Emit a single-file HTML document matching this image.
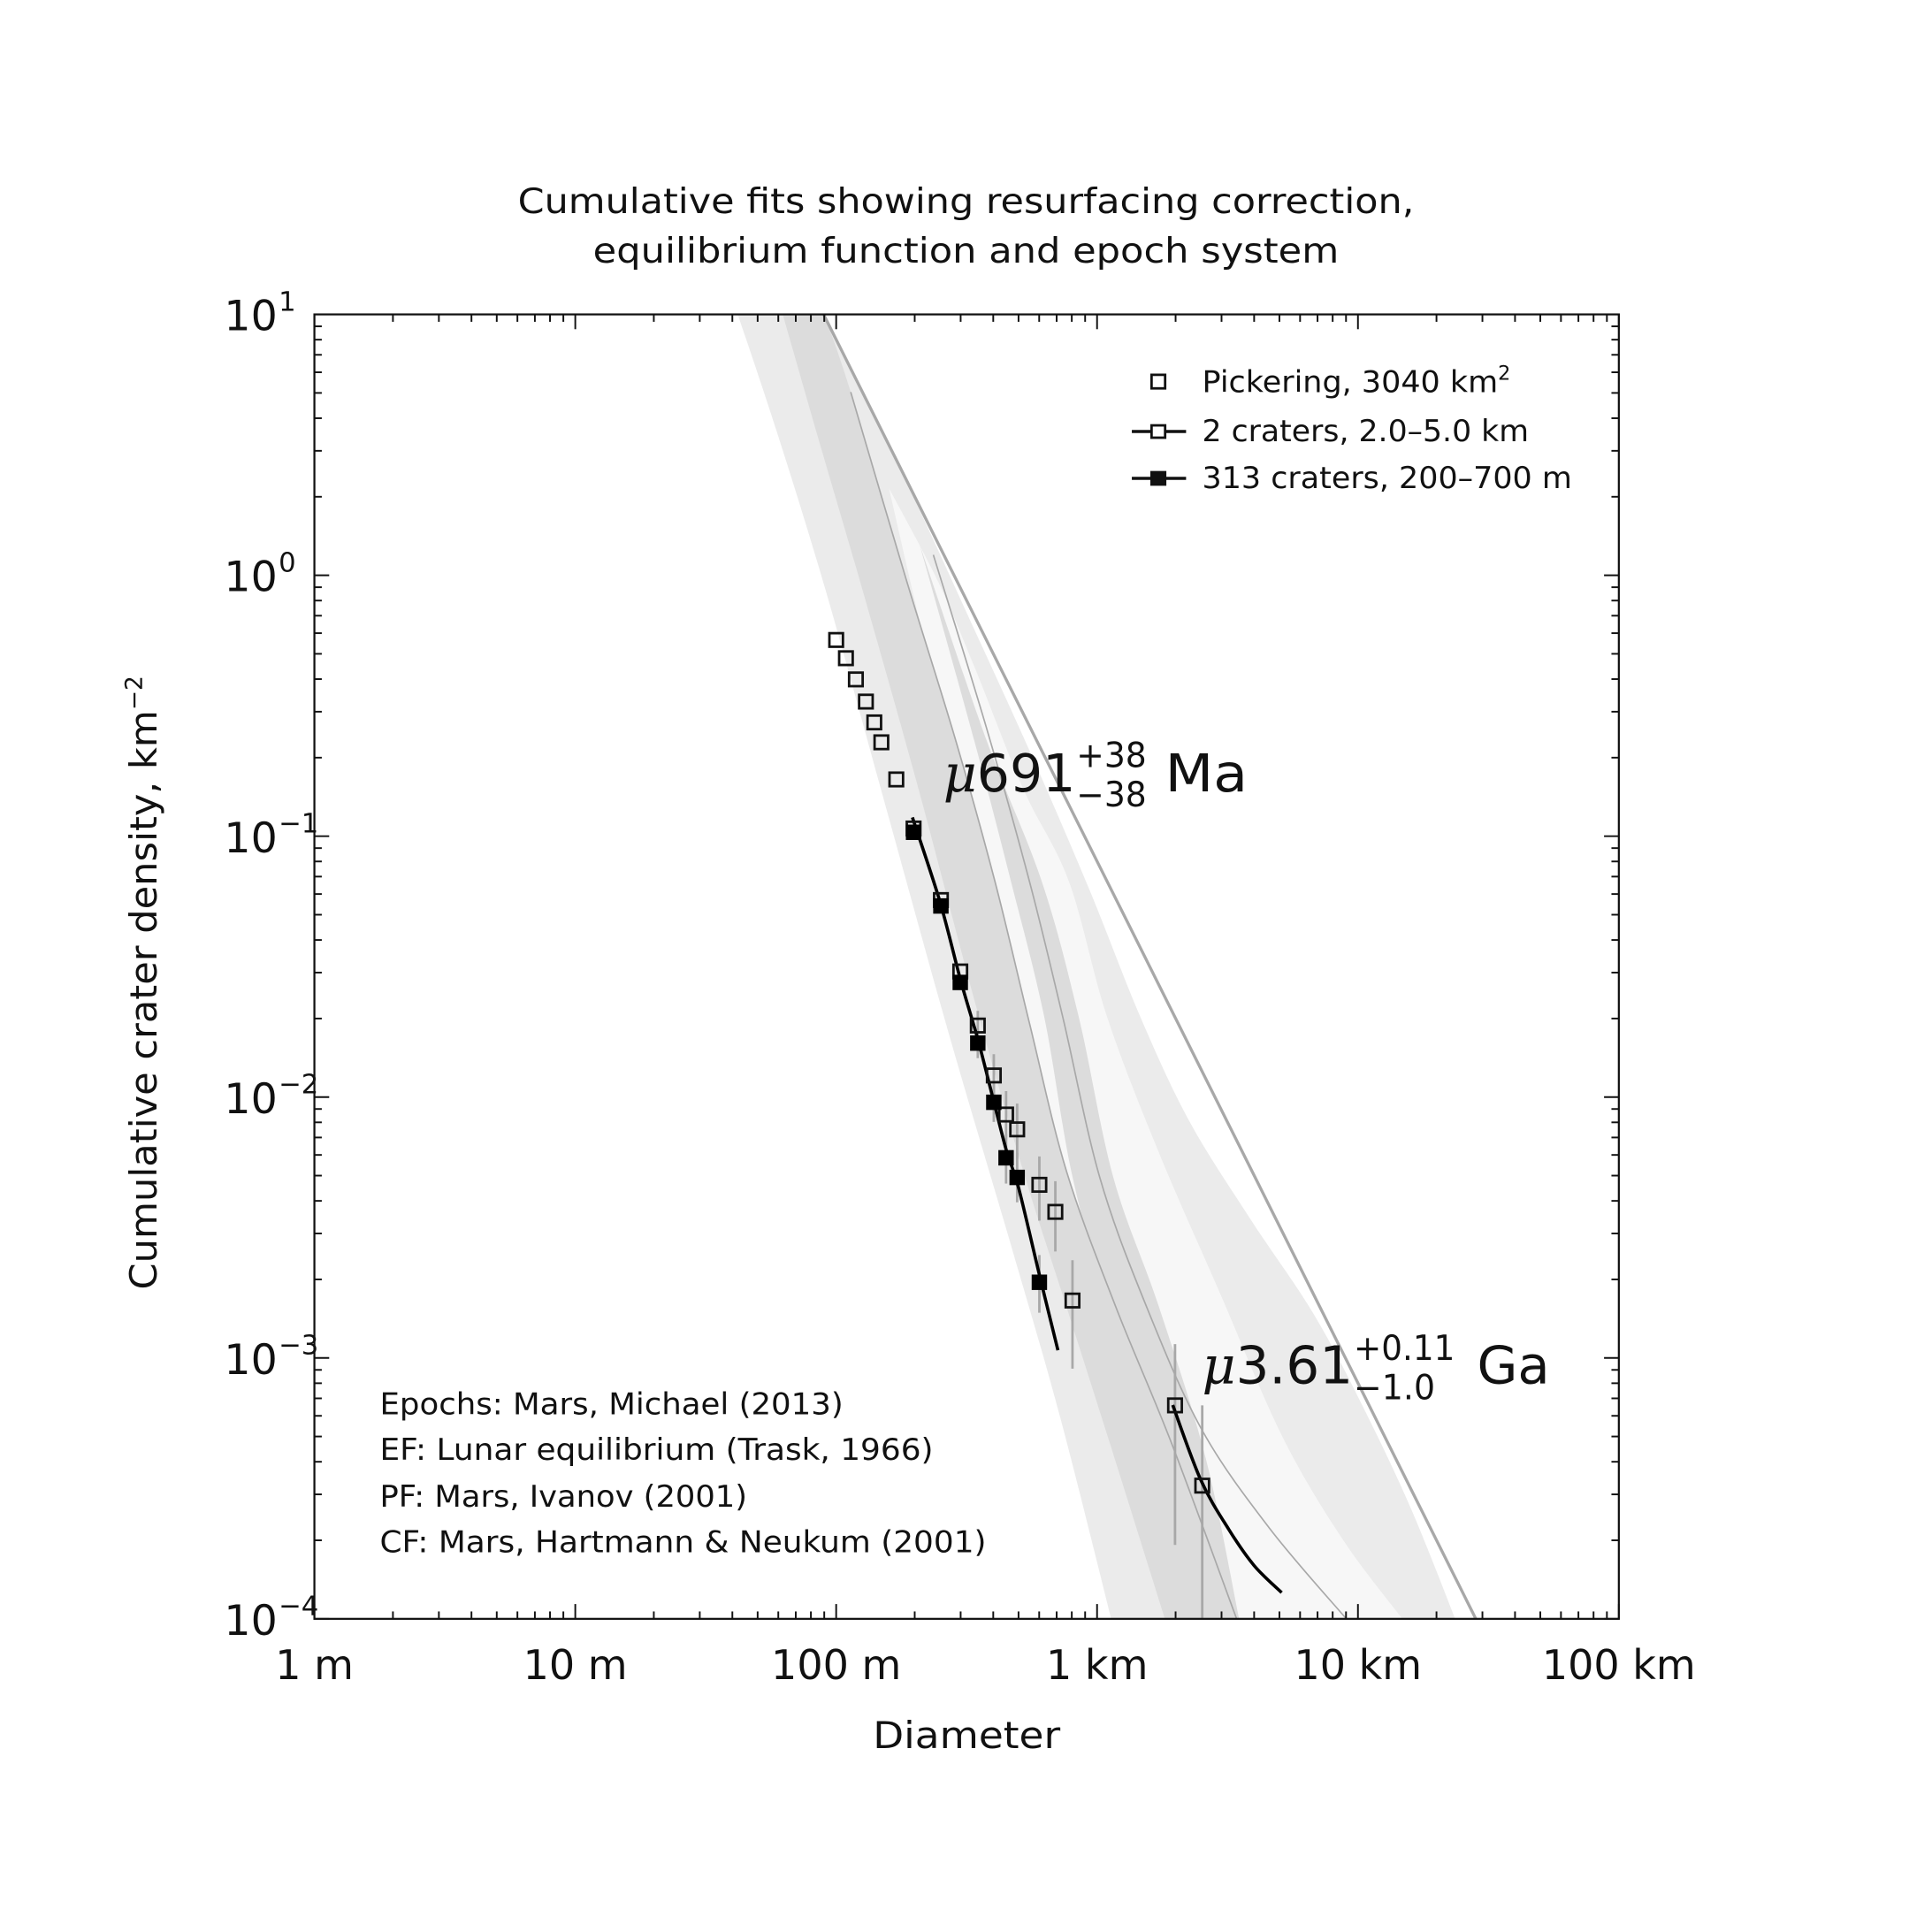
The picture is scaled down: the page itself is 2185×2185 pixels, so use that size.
<!DOCTYPE html>
<html><head><meta charset="utf-8"><style>
html,body{margin:0;padding:0;background:#fff}
svg{display:block}
text{font-family:"DejaVu Sans","Liberation Sans",sans-serif;fill:#111}
</style></head><body>
<svg id="chart" width="2185" height="2185" viewBox="0 0 1567 1567" xmlns="http://www.w3.org/2000/svg">
<defs><clipPath id="plotclip"><rect x="255" y="255" width="1058" height="1058"/></clipPath></defs>
<rect x="0" y="0" width="1567" height="1567" fill="#fff"/>
<g id="bands" clip-path="url(#plotclip)"></g>
<g id="marks"></g>
<rect x="255" y="255" width="1058" height="1058" fill="none" stroke="#111" stroke-width="1.6"/>
<g id="ticks"></g>
<text x="420" y="173" font-size="28" textLength="727" lengthAdjust="spacingAndGlyphs">Cumulative fits showing resurfacing correction,</text>
<text x="481" y="213" font-size="28" textLength="605" lengthAdjust="spacingAndGlyphs">equilibrium function and epoch system</text>
<text x="708" y="1418" font-size="30" textLength="152" lengthAdjust="spacingAndGlyphs">Diameter</text>
<text transform="translate(127,1046) rotate(-90)" font-size="30"><tspan textLength="470" lengthAdjust="spacingAndGlyphs">Cumulative crater density, km</tspan><tspan dy="-12" font-size="19">−2</tspan></text>
<g>
<rect x="934" y="304" width="11" height="11" fill="#fff" stroke="#111" stroke-width="2"/>
<text x="975" y="318" font-size="24"><tspan textLength="240" lengthAdjust="spacingAndGlyphs">Pickering, 3040 km</tspan><tspan dy="-10" font-size="16">2</tspan></text>
<line x1="918" y1="350" x2="962" y2="350" stroke="#111" stroke-width="2.5"/>
<rect x="934" y="345" width="11" height="10" fill="#fff" stroke="#111" stroke-width="2"/>
<text x="975" y="358" font-size="24" textLength="265" lengthAdjust="spacingAndGlyphs">2 craters, 2.0–5.0 km</text>
<line x1="918" y1="388" x2="962" y2="388" stroke="#111" stroke-width="2.5"/>
<rect x="934" y="383" width="11" height="10" fill="#111" stroke="#111" stroke-width="2"/>
<text x="975" y="396" font-size="24" textLength="300" lengthAdjust="spacingAndGlyphs">313 craters, 200–700 m</text>
</g>
<g>
<text x="765" y="642" font-size="42"><tspan font-style="italic" font-family="DejaVu Serif, serif">μ</tspan><tspan textLength="80" lengthAdjust="spacingAndGlyphs">691</tspan></text>
<text x="873" y="622" font-size="28" textLength="57" lengthAdjust="spacingAndGlyphs">+38</text>
<text x="873" y="654" font-size="28" textLength="57" lengthAdjust="spacingAndGlyphs">−38</text>
<text x="945" y="642" font-size="42" textLength="67" lengthAdjust="spacingAndGlyphs">Ma</text>
</g>
<g>
<text x="975" y="1122" font-size="42"><tspan font-style="italic" font-family="DejaVu Serif, serif">μ</tspan><tspan textLength="95" lengthAdjust="spacingAndGlyphs">3.61</tspan></text>
<text x="1098" y="1103" font-size="28" textLength="82" lengthAdjust="spacingAndGlyphs">+0.11</text>
<text x="1098" y="1135" font-size="28" textLength="66" lengthAdjust="spacingAndGlyphs">−1.0</text>
<text x="1198" y="1122" font-size="42" textLength="59" lengthAdjust="spacingAndGlyphs">Ga</text>
</g>
<g font-size="24">
<text x="308" y="1147" textLength="376" lengthAdjust="spacingAndGlyphs">Epochs: Mars, Michael (2013)</text>
<text x="308" y="1184" textLength="449" lengthAdjust="spacingAndGlyphs">EF: Lunar equilibrium (Trask, 1966)</text>
<text x="308" y="1222" textLength="298" lengthAdjust="spacingAndGlyphs">PF: Mars, Ivanov (2001)</text>
<text x="308" y="1259" textLength="492" lengthAdjust="spacingAndGlyphs">CF: Mars, Hartmann &amp; Neukum (2001)</text>
</g>
</svg>
<script>
// ---- data ----
const pickD = [0.100,0.109,0.119,0.130,0.140,0.149,0.170,0.198,0.252,0.299,0.349,0.402,0.448,0.494,0.601,0.692,0.805,1.99,2.53];
const pickN = [0.565,0.481,0.399,0.328,0.273,0.229,0.165,0.107,0.0569,0.0303,0.0188,0.0121,0.00857,0.00752,0.00461,0.00363,0.00166,0.000658,0.000324];
const pickLo = [null,null,null,null,null,null,null,null,null,null,0.0163,0.00997,0.00683,0.00579,0.00336,0.00256,0.00091,0.000192,0.0001];
const pickHi = [null,null,null,null,null,null,null,null,null,null,0.0214,0.0146,0.01054,0.00944,0.00592,0.00476,0.00237,0.00113,0.000658];
const fillD = [0.198,0.252,0.299,0.349,0.402,0.448,0.494,0.601];
const fillN = [0.1035,0.054,0.0275,0.0161,0.00955,0.00585,0.00492,0.00195];
const fillLo = [null,null,null,0.0141,0.00803,0.00466,0.00395,0.00149];
const fillHi = [null,null,null,0.01815,0.01137,0.00719,0.00611,0.00248];
const fit1D = [0.196,0.25,0.3,0.35,0.4,0.45,0.5,0.6,0.708];
const fit1N = [0.118,0.056,0.028,0.0165,0.0098,0.0062,0.0045,0.0021,0.00107];
const fit2D = [1.95,2.5,3.2,4.0,5.1];
const fit2N = [0.00066,0.00034,0.00022,0.00016,0.000126];
const eqD = [0.0895,28.3];
const eqN = [10,0.0001];
const xTickLabels = ["1 m","10 m","100 m","1 km","10 km","100 km"];
const yTickExps = ["1","0","−1","−2","−3","−4"];

// ---- axes ----
const X0=255, Y0=255, DEC=211.6;
function xs(dKm){ return X0 + Math.log10(dKm*1000)*DEC; }
function ys(n){ return Y0 + (1 - Math.log10(n))*DEC; }
const NS="http://www.w3.org/2000/svg";
function mk(tag, attrs, parent){ const e=document.createElementNS(NS,tag); for(const k in attrs) e.setAttribute(k,attrs[k]); parent.appendChild(e); return e; }

// smooth path through points (Catmull-Rom)
function smooth(p, start){
  let d = start ? ('M'+p[0][0]+','+p[0][1]) : ('L'+p[0][0]+','+p[0][1]);
  for(let i=0;i<p.length-1;i++){
    const a=p[Math.max(0,i-1)], b=p[i], c=p[i+1], e=p[Math.min(p.length-1,i+2)];
    const c1=[b[0]+(c[0]-a[0])/6, b[1]+(c[1]-a[1])/6];
    const c2=[c[0]-(e[0]-b[0])/6, c[1]-(e[1]-b[1])/6];
    d+=' C'+c1[0]+','+c1[1]+' '+c2[0]+','+c2[1]+' '+c[0]+','+c[1];
  }
  return d;
}

// ---- bands (epoch system shading outlines) ----
const bands=document.getElementById('bands');
function band(left, right, fill, name){
  const d = smooth(left,true)+' '+smooth(right.slice().reverse(),false)+' Z';
  const p=mk('path',{d:d,fill:fill},bands);
  
  
}
const lineA=[[690,318],[735,470],[775,600],[807,715],[835,830],[865,950],[905,1060],[950,1170],[1003,1313]];
const lineB=[[757,450],[800,590],[835,715],[862,825],[892,955],[930,1060],[975,1160],[1030,1240],[1092,1313]];
band([[595,245],[630,350],[670,480],[720,660],[770,840],[820,1010],[860,1150],[903,1320]],
     [[663,245],[730,380],[790,510],[840,620],[885,725],[925,825],[965,910],[1015,990],[1065,1065],[1105,1140],[1145,1225],[1183,1320]],'#ebebeb','epoch-band-outer');
band([[721,396],[760,560],[807,715],[835,830],[865,950],[905,1060],[950,1170],[1005,1320]],
     [[721,396],[760,470],[790,540],[830,640],[867,715],[898,825],[940,935],[990,1050],[1040,1165],[1090,1250],[1143,1320]],'#f7f7f7','epoch-band-whitish');
band([[632,245],[665,360],[700,480],[745,640],[790,810],[830,950],[865,1060],[900,1170],[947,1320]],
     [[665,245],[690,318],[735,470],[775,600],[807,715],[835,830],[865,950],[905,1060],[950,1170],[1005,1320]],'#dcdcdc','epoch-band-dark');
band([[746,442],[790,600],[820,715],[847,825],[870,955],[900,1060],[950,1170],[1003,1313]],
     [[746,442],[800,600],[845,715],[875,825],[903,955],[940,1060],[978,1183],[1005,1313]],'#dcdcdc','epoch-band-dark-2');
function pline(pts, name){
  const p=mk('path',{d:smooth(pts,true),fill:'none',stroke:'#a8a8a8','stroke-width':1.2},bands);
  
  
}
pline(lineA,'epoch-line-a');
pline(lineB,'epoch-line-b');

// ---- marks ----
const marks=document.getElementById('marks');
const eq=mk('line',{x1:xs(eqD[0]),y1:ys(eqN[0]),x2:xs(eqD[1]),y2:ys(eqN[1]),stroke:'#a8a8a8','stroke-width':2.4},marks);


function errbars(D,lo,hi,prefix){
  for(let i=0;i<D.length;i++){ if(lo[i]==null) continue;
    const l=mk('line',{x1:xs(D[i]),x2:xs(D[i]),y1:ys(hi[i]),y2:ys(lo[i]),stroke:'#a8a8a8','stroke-width':2},marks);
    
    
  }
}
errbars(pickD,pickLo,pickHi,'pickering');
errbars(fillD,fillLo,fillHi,'fit-313');
function curve(D,N,name){
  const pts=D.map((d,i)=>[xs(d),ys(N[i])]);
  const p=mk('path',{d:smooth(pts,true),fill:'none',stroke:'#000','stroke-width':2.6,'stroke-linejoin':'round'},marks);
  
  
}
curve(fit1D,fit1N,'fit-313-craters');
curve(fit2D,fit2N,'fit-2-craters');
for(let i=0;i<pickD.length;i++){
  const r=mk('rect',{x:xs(pickD[i])-5.5,y:ys(pickN[i])-5.5,width:11,height:11,fill:'none',stroke:'#111','stroke-width':2},marks);
  
  
}
for(let i=0;i<fillD.length;i++){
  const r=mk('rect',{x:xs(fillD[i])-5.5,y:ys(fillN[i])-5.5,width:11,height:11,fill:'#000',stroke:'#000','stroke-width':1.5},marks);
  
  
}

// ---- ticks ----
const tk=document.getElementById('ticks');
const X1=X0+5*DEC, Y1=Y0+5*DEC;
for(let d=0; d<=5; d++){
  for(let m=1;m<=9;m++){
    if(d==5 && m>1) break;
    const off=(d+Math.log10(m))*DEC, L=(m==1)?12:6;
    const x=X0+off, y=Y1-off;
    mk('line',{x1:x,x2:x,y1:Y1,y2:Y1-L,stroke:'#111','stroke-width':1.4},tk);
    mk('line',{x1:x,x2:x,y1:Y0,y2:Y0+L,stroke:'#111','stroke-width':1.4},tk);
    mk('line',{x1:X0,x2:X0+L,y1:y,y2:y,stroke:'#111','stroke-width':1.4},tk);
    mk('line',{x1:X1,x2:X1-L,y1:y,y2:y,stroke:'#111','stroke-width':1.4},tk);
  }
}
for(let i=0;i<xTickLabels.length;i++){
  const t=mk('text',{x:X0+i*DEC,y:1362,'font-size':33,'text-anchor':'middle'},tk);
  t.textContent=xTickLabels[i];
  
  
}
for(let i=0;i<yTickExps.length;i++){
  const y=Y0+i*DEC;
  const t=mk('text',{x:225,y:y+13,'font-size':34,'text-anchor':'end'},tk);
  t.textContent='10';
  
  
  const s=mk('text',{x:226,y:y-3,'font-size':22,'text-anchor':'start'},tk);
  s.textContent=yTickExps[i];
  
  
}
</script>
</body></html>
